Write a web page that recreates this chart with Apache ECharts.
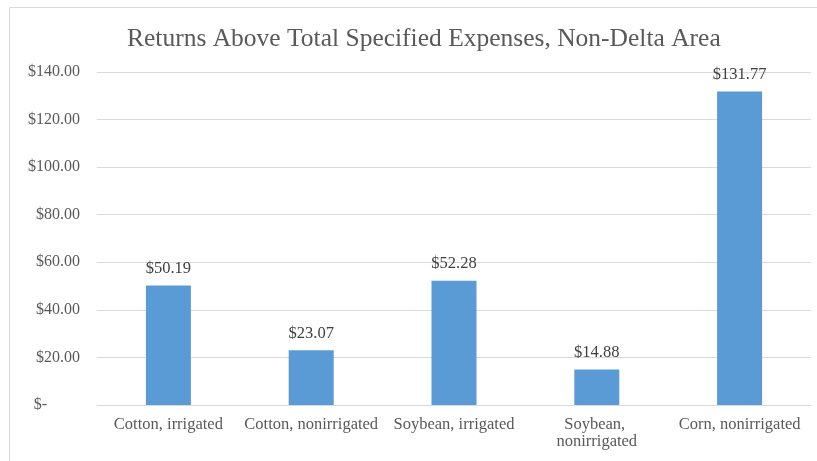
<!DOCTYPE html>
<html>
<head>
<meta charset="utf-8">
<script src="https://cdn.jsdelivr.net/npm/echarts@6/dist/echarts.min.js"></script>
<style>
  html, body { margin: 0; padding: 0; background: #fff; }
  #chart { width: 817px; height: 461px; }
</style>
</head>
<body>
<div id="chart"></div>
<script>
// 类别与数值
const categories = ['Cotton, irrigated', 'Cotton, nonirrigated', 'Soybean, irrigated', 'Soybean, nonirrigated', 'Corn, nonirrigated'];
const returns = [50.19, 23.07, 52.28, 14.88, 131.77];
const yTicks = [0, 20, 40, 60, 80, 100, 120, 140];

const serif = '"Liberation Serif", "Times New Roman", serif';
const chart = echarts.init(document.getElementById('chart'));

chart.setOption({
  animation: false,
  title: {
    text: 'Returns Above Total Specified Expenses, Non-Delta Area',
    left: 122,
    top: 21,
    textStyle: { fontFamily: serif, fontSize: 25.5, fontWeight: 'normal', color: '#595959' }
  },
  graphic: [{
    type: 'rect',
    shape: { x: 9.5, y: 7.5, width: 900, height: 600 },
    style: { fill: 'none', stroke: '#d9d9d9', lineWidth: 1 }
  }],
  grid: { left: 97, right: 6, top: 72, bottom: 56 },
  xAxis: {
    type: 'category',
    data: categories,
    axisLine: { lineStyle: { color: '#d9d9d9' } },
    axisTick: { show: false },
    axisLabel: {
      interval: 0,
      margin: 11,
      width: 140,
      overflow: 'break',
      lineHeight: 17,
      fontFamily: serif,
      fontSize: 16.5,
      color: '#595959'
    }
  },
  yAxis: {
    type: 'value',
    min: yTicks[0],
    max: yTicks[yTicks.length - 1],
    interval: 20,
    axisLine: { show: false },
    axisTick: { show: false },
    splitLine: { lineStyle: { color: '#d9d9d9' } },
    axisLabel: {
      margin: 17,
      fontFamily: serif,
      fontSize: 16,
      color: '#595959',
      formatter: function (v) {
        if (v === 0) return '{z|$-}';
        return '$' + v.toFixed(2);
      },
      rich: {
        z: { fontFamily: serif, fontSize: 16, color: '#595959', padding: [0, 33, 0, 0] }
      }
    }
  },
  series: [{
    type: 'bar',
    data: returns,
    barWidth: 45,
    itemStyle: { color: '#5b9bd5' },
    label: {
      show: true,
      position: 'top',
      distance: 8,
      fontFamily: serif,
      fontSize: 16.5,
      color: '#404040',
      formatter: function (p) { return '$' + p.value.toFixed(2); }
    }
  }]
});
</script>
</body>
</html>
